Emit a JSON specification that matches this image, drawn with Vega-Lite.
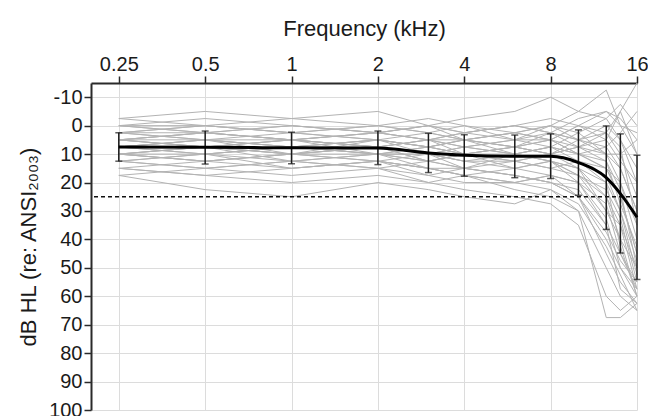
{
  "$schema": "https://vega.github.io/schema/vega-lite/v6.json",
  "autosize": {"type": "none"},
  "padding": {"left": 91, "top": 83, "right": 11, "bottom": 6},
  "width": 546,
  "height": 327,
  "background": "white",
  "config": {
    "view": {"stroke": null},
    "font": "Liberation Sans",
    "axis": {
      "grid": true,
      "gridColor": "#dcdcdc",
      "gridWidth": 1,
      "domainColor": "#2a2a2a",
      "domainWidth": 2,
      "tickColor": "#2a2a2a",
      "tickWidth": 1.5,
      "tickSize": 7,
      "labelFont": "Liberation Sans",
      "labelFontSize": 20,
      "labelColor": "#1a1a1a",
      "labelPadding": 2,
      "labelOverlap": false,
      "labelFlush": false,
      "titleFont": "Liberation Sans",
      "titleFontSize": 22,
      "titleFontWeight": "normal",
      "titleColor": "#1a1a1a"
    }
  },
  "datasets": {
    "subjects": [
      {"s":1,"f":0.25,"v":5},{"s":1,"f":0.5,"v":5},{"s":1,"f":1,"v":7.5},{"s":1,"f":2,"v":5},{"s":1,"f":3,"v":7.5},{"s":1,"f":4,"v":10},{"s":1,"f":6,"v":10},{"s":1,"f":8,"v":7.5},{"s":1,"f":10,"v":10},{"s":1,"f":12.5,"v":15},{"s":1,"f":14,"v":25},{"s":1,"f":16,"v":45},
      {"s":2,"f":0.25,"v":0},{"s":2,"f":0.5,"v":2.5},{"s":2,"f":1,"v":0},{"s":2,"f":2,"v":2.5},{"s":2,"f":3,"v":5},{"s":2,"f":4,"v":5},{"s":2,"f":6,"v":2.5},{"s":2,"f":8,"v":0},{"s":2,"f":10,"v":5},{"s":2,"f":12.5,"v":10},{"s":2,"f":14,"v":15},{"s":2,"f":16,"v":30},
      {"s":3,"f":0.25,"v":10},{"s":3,"f":0.5,"v":12.5},{"s":3,"f":1,"v":10},{"s":3,"f":2,"v":12.5},{"s":3,"f":3,"v":15},{"s":3,"f":4,"v":15},{"s":3,"f":6,"v":17.5},{"s":3,"f":8,"v":20},{"s":3,"f":10,"v":25},{"s":3,"f":12.5,"v":40},{"s":3,"f":14,"v":50},{"s":3,"f":16,"v":60},
      {"s":4,"f":0.25,"v":7.5},{"s":4,"f":0.5,"v":7.5},{"s":4,"f":1,"v":10},{"s":4,"f":2,"v":7.5},{"s":4,"f":3,"v":10},{"s":4,"f":4,"v":12.5},{"s":4,"f":6,"v":10},{"s":4,"f":8,"v":12.5},{"s":4,"f":10,"v":20},{"s":4,"f":12.5,"v":35},{"s":4,"f":14,"v":45},{"s":4,"f":16,"v":55},
      {"s":5,"f":0.25,"v":-2.5},{"s":5,"f":0.5,"v":0},{"s":5,"f":1,"v":2.5},{"s":5,"f":2,"v":0},{"s":5,"f":3,"v":2.5},{"s":5,"f":4,"v":0},{"s":5,"f":6,"v":5},{"s":5,"f":8,"v":2.5},{"s":5,"f":10,"v":-2.5},{"s":5,"f":12.5,"v":-5},{"s":5,"f":14,"v":0},{"s":5,"f":16,"v":10},
      {"s":6,"f":0.25,"v":12.5},{"s":6,"f":0.5,"v":15},{"s":6,"f":1,"v":12.5},{"s":6,"f":2,"v":15},{"s":6,"f":3,"v":17.5},{"s":6,"f":4,"v":20},{"s":6,"f":6,"v":20},{"s":6,"f":8,"v":17.5},{"s":6,"f":10,"v":25},{"s":6,"f":12.5,"v":45},{"s":6,"f":14,"v":55},{"s":6,"f":16,"v":62.5},
      {"s":7,"f":0.25,"v":5},{"s":7,"f":0.5,"v":2.5},{"s":7,"f":1,"v":5},{"s":7,"f":2,"v":7.5},{"s":7,"f":3,"v":5},{"s":7,"f":4,"v":7.5},{"s":7,"f":6,"v":5},{"s":7,"f":8,"v":5},{"s":7,"f":10,"v":7.5},{"s":7,"f":12.5,"v":10},{"s":7,"f":14,"v":20},{"s":7,"f":16,"v":35},
      {"s":8,"f":0.25,"v":2.5},{"s":8,"f":0.5,"v":5},{"s":8,"f":1,"v":2.5},{"s":8,"f":2,"v":5},{"s":8,"f":3,"v":7.5},{"s":8,"f":4,"v":5},{"s":8,"f":6,"v":7.5},{"s":8,"f":8,"v":10},{"s":8,"f":10,"v":5},{"s":8,"f":12.5,"v":0},{"s":8,"f":14,"v":5},{"s":8,"f":16,"v":15},
      {"s":9,"f":0.25,"v":15},{"s":9,"f":0.5,"v":17.5},{"s":9,"f":1,"v":15},{"s":9,"f":2,"v":12.5},{"s":9,"f":3,"v":15},{"s":9,"f":4,"v":17.5},{"s":9,"f":6,"v":22.5},{"s":9,"f":8,"v":25},{"s":9,"f":10,"v":30},{"s":9,"f":12.5,"v":50},{"s":9,"f":14,"v":60},{"s":9,"f":16,"v":65},
      {"s":10,"f":0.25,"v":10},{"s":10,"f":0.5,"v":7.5},{"s":10,"f":1,"v":10},{"s":10,"f":2,"v":10},{"s":10,"f":3,"v":12.5},{"s":10,"f":4,"v":10},{"s":10,"f":6,"v":15},{"s":10,"f":8,"v":12.5},{"s":10,"f":10,"v":15},{"s":10,"f":12.5,"v":25},{"s":10,"f":14,"v":40},{"s":10,"f":16,"v":50},
      {"s":11,"f":0.25,"v":0},{"s":11,"f":0.5,"v":-2.5},{"s":11,"f":1,"v":0},{"s":11,"f":2,"v":2.5},{"s":11,"f":3,"v":0},{"s":11,"f":4,"v":2.5},{"s":11,"f":6,"v":0},{"s":11,"f":8,"v":-2.5},{"s":11,"f":10,"v":0},{"s":11,"f":12.5,"v":5},{"s":11,"f":14,"v":-5},{"s":11,"f":16,"v":-15},
      {"s":12,"f":0.25,"v":7.5},{"s":12,"f":0.5,"v":10},{"s":12,"f":1,"v":7.5},{"s":12,"f":2,"v":5},{"s":12,"f":3,"v":10},{"s":12,"f":4,"v":12.5},{"s":12,"f":6,"v":12.5},{"s":12,"f":8,"v":15},{"s":12,"f":10,"v":17.5},{"s":12,"f":12.5,"v":30},{"s":12,"f":14,"v":35},{"s":12,"f":16,"v":57.5},
      {"s":13,"f":0.25,"v":17.5},{"s":13,"f":0.5,"v":22.5},{"s":13,"f":1,"v":25},{"s":13,"f":2,"v":20},{"s":13,"f":3,"v":22.5},{"s":13,"f":4,"v":25},{"s":13,"f":6,"v":27.5},{"s":13,"f":8,"v":22.5},{"s":13,"f":10,"v":30},{"s":13,"f":12.5,"v":67.5},{"s":13,"f":14,"v":67.5},{"s":13,"f":16,"v":62.5},
      {"s":14,"f":0.25,"v":5},{"s":14,"f":0.5,"v":7.5},{"s":14,"f":1,"v":5},{"s":14,"f":2,"v":2.5},{"s":14,"f":3,"v":5},{"s":14,"f":4,"v":7.5},{"s":14,"f":6,"v":10},{"s":14,"f":8,"v":7.5},{"s":14,"f":10,"v":12.5},{"s":14,"f":12.5,"v":20},{"s":14,"f":14,"v":30},{"s":14,"f":16,"v":52.5},
      {"s":15,"f":0.25,"v":2.5},{"s":15,"f":0.5,"v":0},{"s":15,"f":1,"v":2.5},{"s":15,"f":2,"v":0},{"s":15,"f":3,"v":-2.5},{"s":15,"f":4,"v":0},{"s":15,"f":6,"v":2.5},{"s":15,"f":8,"v":5},{"s":15,"f":10,"v":0},{"s":15,"f":12.5,"v":-5},{"s":15,"f":14,"v":-2.5},{"s":15,"f":16,"v":5},
      {"s":16,"f":0.25,"v":12.5},{"s":16,"f":0.5,"v":10},{"s":16,"f":1,"v":12.5},{"s":16,"f":2,"v":10},{"s":16,"f":3,"v":12.5},{"s":16,"f":4,"v":15},{"s":16,"f":6,"v":12.5},{"s":16,"f":8,"v":10},{"s":16,"f":10,"v":15},{"s":16,"f":12.5,"v":20},{"s":16,"f":14,"v":42.5},{"s":16,"f":16,"v":60},
      {"s":17,"f":0.25,"v":7.5},{"s":17,"f":0.5,"v":5},{"s":17,"f":1,"v":5},{"s":17,"f":2,"v":7.5},{"s":17,"f":3,"v":10},{"s":17,"f":4,"v":7.5},{"s":17,"f":6,"v":5},{"s":17,"f":8,"v":7.5},{"s":17,"f":10,"v":2.5},{"s":17,"f":12.5,"v":10},{"s":17,"f":14,"v":10},{"s":17,"f":16,"v":25},
      {"s":18,"f":0.25,"v":10},{"s":18,"f":0.5,"v":12.5},{"s":18,"f":1,"v":15},{"s":18,"f":2,"v":12.5},{"s":18,"f":3,"v":10},{"s":18,"f":4,"v":12.5},{"s":18,"f":6,"v":15},{"s":18,"f":8,"v":17.5},{"s":18,"f":10,"v":20},{"s":18,"f":12.5,"v":27.5},{"s":18,"f":14,"v":45},{"s":18,"f":16,"v":57.5},
      {"s":19,"f":0.25,"v":-2.5},{"s":19,"f":0.5,"v":-5},{"s":19,"f":1,"v":-2.5},{"s":19,"f":2,"v":-5},{"s":19,"f":3,"v":0},{"s":19,"f":4,"v":-2.5},{"s":19,"f":6,"v":-5},{"s":19,"f":8,"v":-10},{"s":19,"f":10,"v":-5},{"s":19,"f":12.5,"v":-12.5},{"s":19,"f":14,"v":0},{"s":19,"f":16,"v":2.5},
      {"s":20,"f":0.25,"v":5},{"s":20,"f":0.5,"v":7.5},{"s":20,"f":1,"v":10},{"s":20,"f":2,"v":7.5},{"s":20,"f":3,"v":12.5},{"s":20,"f":4,"v":10},{"s":20,"f":6,"v":7.5},{"s":20,"f":8,"v":5},{"s":20,"f":10,"v":10},{"s":20,"f":12.5,"v":15},{"s":20,"f":14,"v":20},{"s":20,"f":16,"v":40},
      {"s":21,"f":0.25,"v":15},{"s":21,"f":0.5,"v":12.5},{"s":21,"f":1,"v":10},{"s":21,"f":2,"v":12.5},{"s":21,"f":3,"v":15},{"s":21,"f":4,"v":17.5},{"s":21,"f":6,"v":20},{"s":21,"f":8,"v":22.5},{"s":21,"f":10,"v":27.5},{"s":21,"f":12.5,"v":42.5},{"s":21,"f":14,"v":52.5},{"s":21,"f":16,"v":65},
      {"s":22,"f":0.25,"v":2.5},{"s":22,"f":0.5,"v":2.5},{"s":22,"f":1,"v":5},{"s":22,"f":2,"v":2.5},{"s":22,"f":3,"v":5},{"s":22,"f":4,"v":2.5},{"s":22,"f":6,"v":5},{"s":22,"f":8,"v":0},{"s":22,"f":10,"v":-5},{"s":22,"f":12.5,"v":-2.5},{"s":22,"f":14,"v":-7.5},{"s":22,"f":16,"v":0},
      {"s":23,"f":0.25,"v":10},{"s":23,"f":0.5,"v":10},{"s":23,"f":1,"v":7.5},{"s":23,"f":2,"v":10},{"s":23,"f":3,"v":7.5},{"s":23,"f":4,"v":10},{"s":23,"f":6,"v":12.5},{"s":23,"f":8,"v":10},{"s":23,"f":10,"v":7.5},{"s":23,"f":12.5,"v":5},{"s":23,"f":14,"v":12.5},{"s":23,"f":16,"v":20},
      {"s":24,"f":0.25,"v":7.5},{"s":24,"f":0.5,"v":5},{"s":24,"f":1,"v":7.5},{"s":24,"f":2,"v":10},{"s":24,"f":3,"v":10},{"s":24,"f":4,"v":15},{"s":24,"f":6,"v":17.5},{"s":24,"f":8,"v":20},{"s":24,"f":10,"v":25},{"s":24,"f":12.5,"v":37.5},{"s":24,"f":14,"v":47.5},{"s":24,"f":16,"v":55},
      {"s":25,"f":0.25,"v":17.5},{"s":25,"f":0.5,"v":15},{"s":25,"f":1,"v":17.5},{"s":25,"f":2,"v":15},{"s":25,"f":3,"v":20},{"s":25,"f":4,"v":22.5},{"s":25,"f":6,"v":25},{"s":25,"f":8,"v":27.5},{"s":25,"f":10,"v":35},{"s":25,"f":12.5,"v":60},{"s":25,"f":14,"v":65},{"s":25,"f":16,"v":60},
      {"s":26,"f":0.25,"v":5},{"s":26,"f":0.5,"v":2.5},{"s":26,"f":1,"v":0},{"s":26,"f":2,"v":2.5},{"s":26,"f":3,"v":0},{"s":26,"f":4,"v":5},{"s":26,"f":6,"v":7.5},{"s":26,"f":8,"v":5},{"s":26,"f":10,"v":0},{"s":26,"f":12.5,"v":2.5},{"s":26,"f":14,"v":-5},{"s":26,"f":16,"v":10},
      {"s":27,"f":0.25,"v":12.5},{"s":27,"f":0.5,"v":15},{"s":27,"f":1,"v":12.5},{"s":27,"f":2,"v":10},{"s":27,"f":3,"v":10},{"s":27,"f":4,"v":7.5},{"s":27,"f":6,"v":10},{"s":27,"f":8,"v":12.5},{"s":27,"f":10,"v":17.5},{"s":27,"f":12.5,"v":25},{"s":27,"f":14,"v":35},{"s":27,"f":16,"v":50},
      {"s":28,"f":0.25,"v":0},{"s":28,"f":0.5,"v":2.5},{"s":28,"f":1,"v":5},{"s":28,"f":2,"v":7.5},{"s":28,"f":3,"v":5},{"s":28,"f":4,"v":2.5},{"s":28,"f":6,"v":0},{"s":28,"f":8,"v":2.5},{"s":28,"f":10,"v":5},{"s":28,"f":12.5,"v":2.5},{"s":28,"f":14,"v":10},{"s":28,"f":16,"v":5},
      {"s":29,"f":0.25,"v":10},{"s":29,"f":0.5,"v":7.5},{"s":29,"f":1,"v":12.5},{"s":29,"f":2,"v":15},{"s":29,"f":3,"v":12.5},{"s":29,"f":4,"v":10},{"s":29,"f":6,"v":12.5},{"s":29,"f":8,"v":15},{"s":29,"f":10,"v":12.5},{"s":29,"f":12.5,"v":15},{"s":29,"f":14,"v":25},{"s":29,"f":16,"v":45},
      {"s":30,"f":0.25,"v":2.5},{"s":30,"f":0.5,"v":5},{"s":30,"f":1,"v":7.5},{"s":30,"f":2,"v":5},{"s":30,"f":3,"v":2.5},{"s":30,"f":4,"v":5},{"s":30,"f":6,"v":2.5},{"s":30,"f":8,"v":5},{"s":30,"f":10,"v":10},{"s":30,"f":12.5,"v":7.5},{"s":30,"f":14,"v":2.5},{"s":30,"f":16,"v":-5},
      {"s":31,"f":0.25,"v":7.5},{"s":31,"f":0.5,"v":10},{"s":31,"f":1,"v":7.5},{"s":31,"f":2,"v":10},{"s":31,"f":3,"v":15},{"s":31,"f":4,"v":17.5},{"s":31,"f":6,"v":15},{"s":31,"f":8,"v":12.5},{"s":31,"f":10,"v":15},{"s":31,"f":12.5,"v":30},{"s":31,"f":14,"v":40},{"s":31,"f":16,"v":60},
      {"s":32,"f":0.25,"v":12.5},{"s":32,"f":0.5,"v":10},{"s":32,"f":1,"v":15},{"s":32,"f":2,"v":12.5},{"s":32,"f":3,"v":17.5},{"s":32,"f":4,"v":15},{"s":32,"f":6,"v":17.5},{"s":32,"f":8,"v":20},{"s":32,"f":10,"v":22.5},{"s":32,"f":12.5,"v":35},{"s":32,"f":14,"v":57.5},{"s":32,"f":16,"v":62.5},
      {"s":33,"f":0.25,"v":5},{"s":33,"f":0.5,"v":7.5},{"s":33,"f":1,"v":5},{"s":33,"f":2,"v":7.5},{"s":33,"f":3,"v":5},{"s":33,"f":4,"v":10},{"s":33,"f":6,"v":7.5},{"s":33,"f":8,"v":2.5},{"s":33,"f":10,"v":5},{"s":33,"f":12.5,"v":7.5},{"s":33,"f":14,"v":15},{"s":33,"f":16,"v":30},
      {"s":34,"f":0.25,"v":7.5},{"s":34,"f":0.5,"v":5},{"s":34,"f":1,"v":10},{"s":34,"f":2,"v":5},{"s":34,"f":3,"v":7.5},{"s":34,"f":4,"v":5},{"s":34,"f":6,"v":10},{"s":34,"f":8,"v":7.5},{"s":34,"f":10,"v":10},{"s":34,"f":12.5,"v":12.5},{"s":34,"f":14,"v":22.5},{"s":34,"f":16,"v":50},
      {"s":35,"f":0.25,"v":0},{"s":35,"f":0.5,"v":0},{"s":35,"f":1,"v":-2.5},{"s":35,"f":2,"v":0},{"s":35,"f":3,"v":2.5},{"s":35,"f":4,"v":5},{"s":35,"f":6,"v":2.5},{"s":35,"f":8,"v":0},{"s":35,"f":10,"v":2.5},{"s":35,"f":12.5,"v":-2.5},{"s":35,"f":14,"v":5},{"s":35,"f":16,"v":20},
      {"s":36,"f":0.25,"v":10},{"s":36,"f":0.5,"v":12.5},{"s":36,"f":1,"v":10},{"s":36,"f":2,"v":7.5},{"s":36,"f":3,"v":12.5},{"s":36,"f":4,"v":15},{"s":36,"f":6,"v":10},{"s":36,"f":8,"v":12.5},{"s":36,"f":10,"v":17.5},{"s":36,"f":12.5,"v":22.5},{"s":36,"f":14,"v":32.5},{"s":36,"f":16,"v":55},
      {"s":37,"f":0.25,"v":15},{"s":37,"f":0.5,"v":17.5},{"s":37,"f":1,"v":20},{"s":37,"f":2,"v":17.5},{"s":37,"f":3,"v":20},{"s":37,"f":4,"v":17.5},{"s":37,"f":6,"v":20},{"s":37,"f":8,"v":17.5},{"s":37,"f":10,"v":20},{"s":37,"f":12.5,"v":32.5},{"s":37,"f":14,"v":50},{"s":37,"f":16,"v":57.5},
      {"s":38,"f":0.25,"v":2.5},{"s":38,"f":0.5,"v":0},{"s":38,"f":1,"v":2.5},{"s":38,"f":2,"v":5},{"s":38,"f":3,"v":7.5},{"s":38,"f":4,"v":10},{"s":38,"f":6,"v":7.5},{"s":38,"f":8,"v":10},{"s":38,"f":10,"v":7.5},{"s":38,"f":12.5,"v":2.5},{"s":38,"f":14,"v":7.5},{"s":38,"f":16,"v":35},
      {"s":39,"f":0.25,"v":5},{"s":39,"f":0.5,"v":2.5},{"s":39,"f":1,"v":5},{"s":39,"f":2,"v":2.5},{"s":39,"f":3,"v":0},{"s":39,"f":4,"v":2.5},{"s":39,"f":6,"v":0},{"s":39,"f":8,"v":2.5},{"s":39,"f":10,"v":7.5},{"s":39,"f":12.5,"v":12.5},{"s":39,"f":14,"v":27.5},{"s":39,"f":16,"v":42.5},
      {"s":40,"f":0.25,"v":10},{"s":40,"f":0.5,"v":7.5},{"s":40,"f":1,"v":5},{"s":40,"f":2,"v":10},{"s":40,"f":3,"v":7.5},{"s":40,"f":4,"v":5},{"s":40,"f":6,"v":7.5},{"s":40,"f":8,"v":10},{"s":40,"f":10,"v":12.5},{"s":40,"f":12.5,"v":17.5},{"s":40,"f":14,"v":30},{"s":40,"f":16,"v":47.5}
    ],
    "mean": [
      {"f":0.25,"m":7.5,"lo":2.5,"hi":12.5},
      {"f":0.5,"m":7.6,"lo":1.9,"hi":13.5},
      {"f":1,"m":7.8,"lo":2.3,"hi":13.4},
      {"f":2,"m":7.9,"lo":1.9,"hi":13.7},
      {"f":3,"m":9.6,"lo":2.7,"hi":16.5},
      {"f":4,"m":10.4,"lo":3.2,"hi":17.8},
      {"f":6,"m":10.8,"lo":3.3,"hi":18.3},
      {"f":8,"m":10.8,"lo":2.9,"hi":18.6},
      {"f":10,"m":13,"lo":1.5,"hi":24.5},
      {"f":12.5,"m":18.3,"lo":0.1,"hi":36.5},
      {"f":14,"m":23.9,"lo":2.9,"hi":44.8},
      {"f":16,"m":32.2,"lo":10.4,"hi":54.1}
    ],
    "ref": [{"t":25}]
  },
  "layer": [
    {
      "data": {"name": "subjects"},
      "mark": {"type": "line", "color": "#b3b3b3", "strokeWidth": 1},
      "encoding": {
        "x": {
          "field": "f", "type": "quantitative", "title": "Frequency (kHz)",
          "scale": {"type": "log", "domain": [0.2, 16], "nice": false},
          "axis": {
            "orient": "top", "values": [0.25, 0.5, 1, 2, 4, 8, 16],
            "labelExpr": "format(datum.value, '~g')", "labelAngle": 0, "titlePadding": 14
          }
        },
        "y": {
          "field": "v", "type": "quantitative", "title": "dB HL (re: ANSI₂₀₀₃)",
          "scale": {"domain": [-15, 100], "reverse": true, "nice": false, "zero": false},
          "axis": {
            "values": [-10, 0, 10, 20, 30, 40, 50, 60, 70, 80, 90, 100],
            "labelExpr": "'' + datum.value", "titlePadding": 8
          }
        },
        "detail": {"field": "s", "type": "nominal"}
      }
    },
    {
      "data": {"name": "ref"},
      "mark": {"type": "rule", "color": "#111111", "strokeWidth": 1.5, "strokeDash": [4, 3]},
      "encoding": {
        "y": {
          "field": "t", "type": "quantitative", "title": "dB HL (re: ANSI₂₀₀₃)",
          "axis": {
            "values": [-10, 0, 10, 20, 30, 40, 50, 60, 70, 80, 90, 100],
            "labelExpr": "'' + datum.value", "titlePadding": 8
          }
        }
      }
    },
    {
      "data": {"name": "mean"},
      "mark": {"type": "errorbar", "color": "#1a1a1a", "thickness": 1.5, "ticks": {"size": 7, "thickness": 1.5, "color": "#1a1a1a"}},
      "encoding": {
        "x": {
          "field": "f", "type": "quantitative", "title": "Frequency (kHz)",
          "axis": {
            "orient": "top", "values": [0.25, 0.5, 1, 2, 4, 8, 16],
            "labelExpr": "format(datum.value, '~g')", "labelAngle": 0, "titlePadding": 14
          }
        },
        "y": {
          "field": "lo", "type": "quantitative", "title": "dB HL (re: ANSI₂₀₀₃)",
          "axis": {
            "values": [-10, 0, 10, 20, 30, 40, 50, 60, 70, 80, 90, 100],
            "labelExpr": "'' + datum.value", "titlePadding": 8
          }
        },
        "y2": {"field": "hi"}
      }
    },
    {
      "data": {"name": "mean"},
      "mark": {"type": "line", "color": "#000000", "strokeWidth": 3, "interpolate": "monotone"},
      "encoding": {
        "x": {
          "field": "f", "type": "quantitative", "title": "Frequency (kHz)",
          "axis": {
            "orient": "top", "values": [0.25, 0.5, 1, 2, 4, 8, 16],
            "labelExpr": "format(datum.value, '~g')", "labelAngle": 0, "titlePadding": 14
          }
        },
        "y": {
          "field": "m", "type": "quantitative", "title": "dB HL (re: ANSI₂₀₀₃)",
          "axis": {
            "values": [-10, 0, 10, 20, 30, 40, 50, 60, 70, 80, 90, 100],
            "labelExpr": "'' + datum.value", "titlePadding": 8
          }
        }
      }
    }
  ]
}
